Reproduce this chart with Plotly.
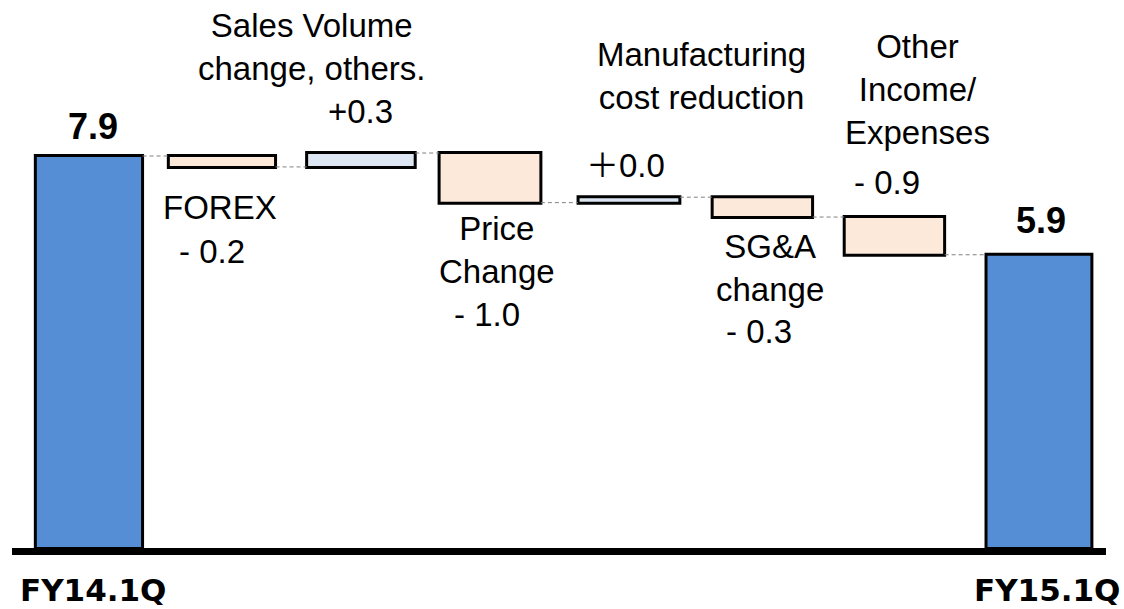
import plotly.graph_objects as go

# ---- data ----
categories = ["FY14.1Q", "FOREX", "Sales Volume", "Price Change",
              "Manufacturing", "SG&A", "Other", "FY15.1Q"]
measures = ["absolute", "relative", "relative", "relative",
            "relative", "relative", "relative", "total"]
values = [7.9, -0.22, 0.28, -1.0, 0.11, -0.40, -0.76, 0]
start_label = "7.9"
end_label = "5.9"

# ---- style ----
bar_widths = [0.79, 0.79, 0.8, 0.75, 0.75, 0.74, 0.74, 0.78]
bar_shift = [0, -0.02, 0.004, -0.045, -0.021, -0.038, -0.065, 0]
bar_offsets = [s - w / 2 for w, s in zip(bar_widths, bar_shift)]

W, H = 1124, 609
ML, MR, MT, MB = 12, 18, 0, 61
PW, PH = W - ML - MR, H - MT - MB
Y_TOP = 11.044

def px(x):
    return (x - ML) / PW

def py(y):
    return (H - MB - y) / PH

fig = go.Figure(go.Waterfall(
    x=categories,
    measure=measures,
    y=values,
    width=bar_widths,
    offset=bar_offsets,
    textinfo="none",
    increasing=dict(marker=dict(color="#DCE6F2", line=dict(color="black", width=3))),
    decreasing=dict(marker=dict(color="#FDE9D9", line=dict(color="black", width=3))),
    totals=dict(marker=dict(color="#558ED5", line=dict(color="black", width=3))),
    connector=dict(mode="between", line=dict(color="#808080", width=1, dash="4px,3px")),
    hoverinfo="skip",
))

AR = "Liberation Sans, Arial, Noto Sans CJK JP, sans-serif"
VB = "DejaVu Sans, Verdana, sans-serif"

notes = [
    ("Sales Volume<br>change, others.", 312, 47.5, AR, 33, False),
    ("+0.3", 360, 111, AR, 33, False),
    ("Manufacturing<br>cost reduction", 701, 76, AR, 33, False),
    ("＋0.0", 625, 165, AR, 33, False),
    ("Other<br>Income/<br>Expenses", 917, 89.5, AR, 33, False),
    ("- 0.9", 887, 182, AR, 33, False),
    ("FOREX", 220, 207, AR, 33, False),
    ("- 0.2", 212, 251, AR, 33, False),
    ("Price<br>Change", 497, 250, AR, 33, False),
    ("- 1.0", 487, 314, AR, 33, False),
    ("SG&A<br>change", 770, 268, AR, 33, False),
    ("- 0.3", 759, 331, AR, 33, False),
    (start_label, 92.5, 126.5, AR, 36, True),
    (end_label, 1041, 220.5, AR, 36, True),
    (categories[0], 92.5, 589.5, VB, 31, True),
    (categories[-1], 1047, 589.5, VB, 31, True),
]

anns = []
for text, x, y, fam, size, bold in notes:
    anns.append(dict(
        text=f"<b>{text}</b>" if bold else text,
        x=px(x), y=py(y), xref="paper", yref="paper",
        xanchor="center", yanchor="middle", showarrow=False,
        font=dict(family=fam, size=size, color="black"),
        align="center",
    ))

fig.update_layout(
    width=W, height=H,
    margin=dict(l=ML, r=MR, t=MT, b=MB),
    paper_bgcolor="white", plot_bgcolor="white",
    showlegend=False,
    annotations=anns,
    xaxis=dict(showticklabels=False, showgrid=False, zeroline=False,
               showline=True, linewidth=7, linecolor="black", ticks="",
               range=[-0.567, 7.494]),
    yaxis=dict(visible=False, range=[0, Y_TOP], showgrid=False, zeroline=False),
)

fig.write_html("out.html",
               config={"displayModeBar": False},
               post_script="document.body.style.margin='0';document.body.style.overflow='hidden';")
